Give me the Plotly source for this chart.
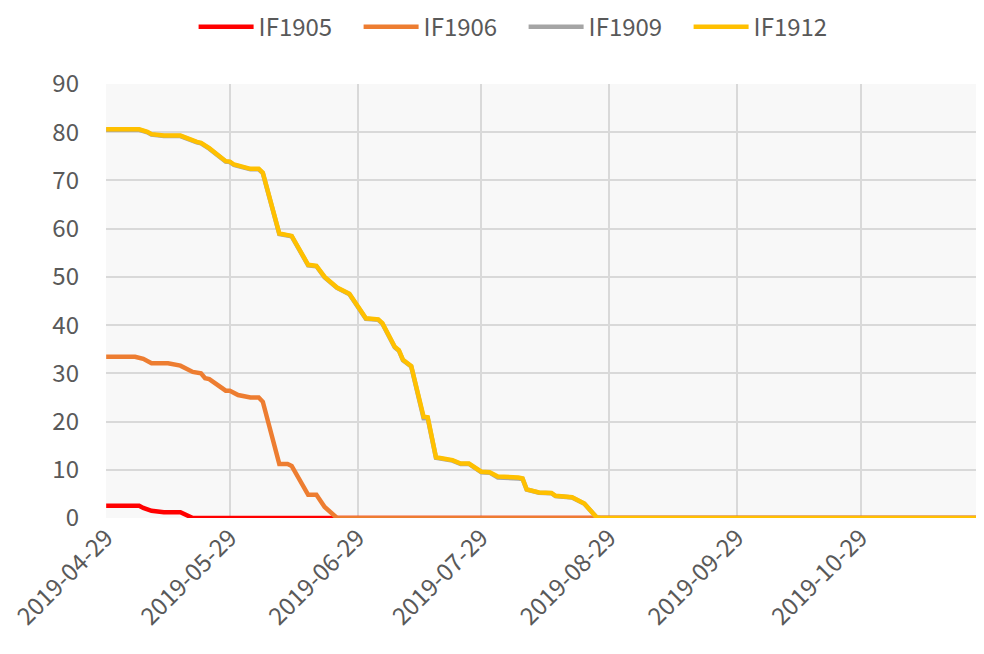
import plotly.graph_objects as go

# ---- data ----
dates_1905 = ["2019-04-29", "2019-05-07", "2019-05-08", "2019-05-10", "2019-05-13",
              "2019-05-17", "2019-05-20", "2019-11-26"]
vals_1905 = [2.55, 2.55, 2.1, 1.5, 1.2, 1.2, 0, 0]

dates_1906 = ["2019-04-29", "2019-05-06", "2019-05-08", "2019-05-10", "2019-05-14",
              "2019-05-17", "2019-05-20", "2019-05-22", "2019-05-23", "2019-05-24",
              "2019-05-28", "2019-05-29", "2019-05-31", "2019-06-03", "2019-06-05",
              "2019-06-06", "2019-06-10", "2019-06-12", "2019-06-13", "2019-06-17",
              "2019-06-19", "2019-06-21", "2019-06-24", "2019-11-26"]
vals_1906 = [33.45, 33.45, 33.0, 32.1, 32.1, 31.6, 30.3, 30.0, 29.0, 28.8,
             26.4, 26.4, 25.5, 25.0, 25.0, 24.1, 11.2, 11.2, 10.8, 4.8,
             4.8, 2.3, 0, 0]

dates_1912 = ["2019-04-29", "2019-05-07", "2019-05-09", "2019-05-10", "2019-05-13",
              "2019-05-17", "2019-05-21", "2019-05-22", "2019-05-24", "2019-05-28",
              "2019-05-29", "2019-05-30", "2019-06-03", "2019-06-05", "2019-06-06",
              "2019-06-10", "2019-06-13", "2019-06-17", "2019-06-19", "2019-06-21",
              "2019-06-24", "2019-06-27", "2019-07-01", "2019-07-04", "2019-07-05",
              "2019-07-08", "2019-07-09", "2019-07-10", "2019-07-12", "2019-07-15",
              "2019-07-16", "2019-07-18", "2019-07-22", "2019-07-23", "2019-07-24",
              "2019-07-26", "2019-07-29", "2019-07-31", "2019-08-02", "2019-08-07",
              "2019-08-08", "2019-08-09", "2019-08-12", "2019-08-15", "2019-08-16",
              "2019-08-20", "2019-08-22", "2019-08-23", "2019-08-26", "2019-08-27",
              "2019-11-26"]
vals_1912 = [80.6, 80.6, 80.1, 79.6, 79.3, 79.3, 78.0, 77.8, 76.7, 74.0,
             73.9, 73.3, 72.4, 72.4, 71.6, 59.0, 58.5, 52.5, 52.3, 50.0,
             47.8, 46.5, 41.4, 41.2, 40.4, 35.5, 34.8, 32.8, 31.5, 21.0,
             20.9, 12.6, 12.0, 11.7, 11.3, 11.3, 9.6, 9.5, 8.6, 8.4,
             8.2, 5.95, 5.3, 5.2, 4.6, 4.3, 3.6, 3.0, 0.1, 0,
             0]

dates_1909 = dates_1912
vals_1909 = [80.5, 80.5, 80.0, 79.5, 79.2, 79.2, 77.9, 77.7, 76.6, 73.9,
             73.8, 73.2, 72.3, 72.3, 71.5, 58.9, 58.4, 52.4, 52.2, 49.9,
             47.7, 46.4, 41.3, 41.1, 40.3, 35.4, 34.7, 32.7, 31.4, 20.7,
             20.7, 12.5, 11.9, 11.6, 11.2, 11.2, 9.5, 9.4, 8.4, 8.2,
             8.1, 5.9, 5.25, 5.15, 4.55, 4.25, 3.55, 2.95, 0.1, 0,
             0]

tick_vals = ["2019-04-29", "2019-05-29", "2019-06-29", "2019-07-29",
             "2019-08-29", "2019-09-29", "2019-10-29"]
tick_text = tick_vals
y_ticks = [0, 10, 20, 30, 40, 50, 60, 70, 80, 90]

series = [
    ("IF1905", dates_1905, vals_1905, "#FF0000"),
    ("IF1906", dates_1906, vals_1906, "#ED7D31"),
    ("IF1909", dates_1909, vals_1909, "#A5A5A5"),
    ("IF1912", dates_1912, vals_1912, "#FFC000"),
]

FONT = "Noto Sans CJK SC, Microsoft YaHei, sans-serif"
TXT = "#595959"

fig = go.Figure()
for name, x, y, c in series:
    fig.add_trace(go.Scatter(x=x, y=y, name=name, mode="lines",
                             line=dict(color=c, width=4.5)))

fig.update_layout(
    width=984, height=654,
    margin=dict(l=98, r=16, t=76, b=144, autoexpand=False),
    paper_bgcolor="white",
    plot_bgcolor="#f8f8f8",
    font=dict(family=FONT, size=24, color=TXT),
    showlegend=True,
    legend=dict(orientation="h", x=0.48, xanchor="center", y=1.131, yanchor="middle",
                font=dict(family=FONT, size=24, color=TXT),
                itemwidth=55, entrywidth=95, entrywidthmode="pixels",
                tracegroupgap=0),
)
fig.update_xaxes(
    type="date", range=["2019-04-28 23:00", "2019-11-26"],
    tickmode="array", tickvals=tick_vals, ticktext=tick_text,
    tickangle=-45, showgrid=True, gridcolor="#d9d9d9", gridwidth=2,
    zeroline=False, showline=False, ticks="", automargin=False,
    ticklabelstandoff=0, ticklabeloverflow="allow",
    tickfont=dict(family=FONT, size=24, color=TXT),
)
fig.update_yaxes(
    range=[0, 90], tickvals=y_ticks, showgrid=True, gridcolor="#d9d9d9", gridwidth=2,
    zeroline=False, showline=False, ticks="", automargin=False,
    ticklabelstandoff=26,
    tickfont=dict(family=FONT, size=24, color=TXT),
)

fig.write_html("out.html")
